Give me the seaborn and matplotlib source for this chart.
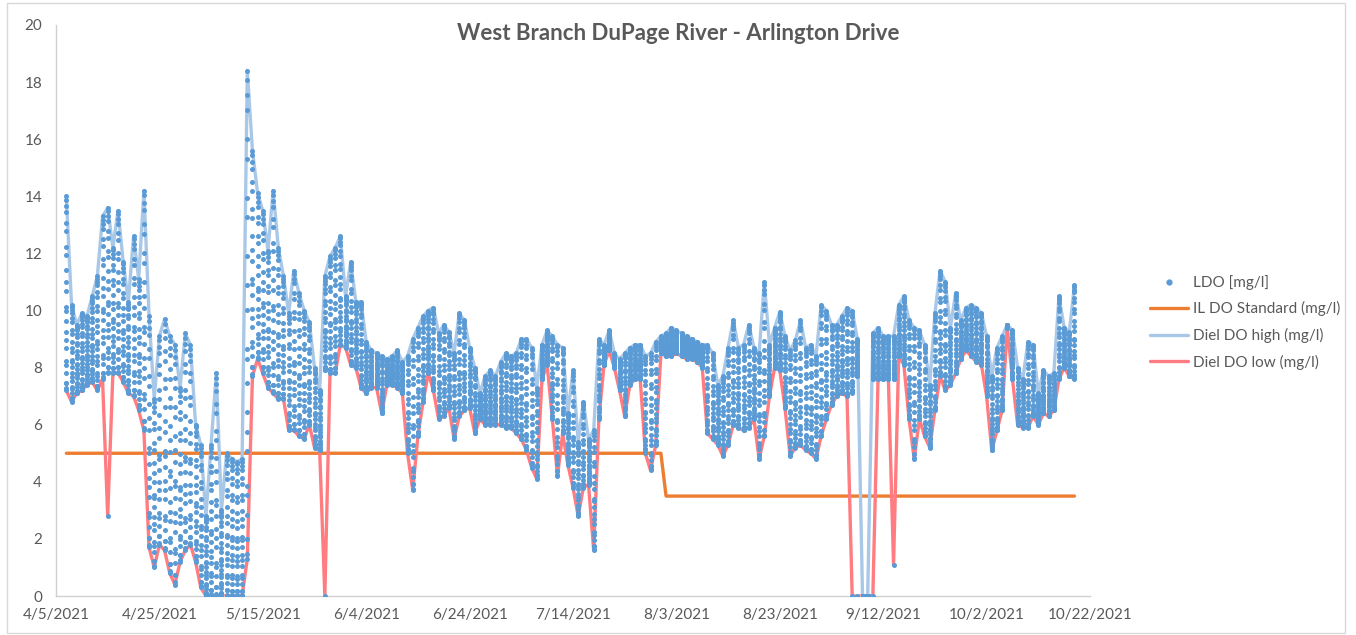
import pandas as pd
import matplotlib
matplotlib.use("Agg")
import matplotlib.pyplot as plt
import seaborn as sns
from matplotlib.lines import Line2D
from matplotlib.patches import Rectangle

sns.set_style("white")
plt.rcParams["font.family"] = ["Lato", "DejaVu Sans"]

# ---- data ----
first_day = "2021-04-07"

diel_high = [
    14.0, 10.2, 9.5, 9.9, 9.8, 10.5, 11.2, 13.3, 13.6, 12.2,
    13.5, 11.7, 10.3, 12.6, 11.1, 14.2, 9.8, 6.9, 9.1, 9.7,
    9.1, 8.8, 7.3, 9.2, 8.8, 6.0, 5.3, 2.8, 5.3, 7.8,
    3.0, 5.0, 4.8, 4.7, 4.8, 18.4, 15.6, 14.1, 13.5, 12.1,
    14.2, 12.2, 11.2, 9.9, 11.4, 10.6, 10.0, 9.6, 8.0, 7.2,
    11.2, 11.9, 12.2, 12.6, 10.5, 11.7, 10.3, 10.3, 8.9, 8.6,
    8.5, 8.4, 8.3, 8.4, 8.6, 8.2, 8.4, 9.0, 9.4, 9.8,
    10.0, 10.1, 9.2, 9.5, 9.25, 8.5, 9.9, 9.65, 8.7, 8.0,
    7.1, 7.7, 7.9, 7.7, 8.2, 8.5, 8.4, 8.5, 9.0, 9.0,
    8.7, 7.3, 8.8, 9.3, 9.1, 8.8, 8.7, 6.4, 7.9, 5.4,
    6.8, 5.5, 5.8, 9.0, 8.8, 9.3, 8.5, 8.3, 8.5, 8.7,
    8.8, 8.8, 8.4, 8.5, 8.9, 9.1, 9.2, 9.4, 9.3, 9.2,
    9.1, 9.0, 8.9, 8.8, 8.8, 8.5, 7.4, 7.7, 8.7, 9.65,
    8.7, 8.8, 9.5, 8.7, 8.5, 11.0, 8.8, 9.4, 9.95, 9.1,
    8.6, 8.95, 9.65, 8.7, 8.8, 8.4, 10.2, 10.0, 9.5, 9.5,
    9.8, 10.1, 10.0, 9.0, 0.0, 0.0, 9.2, 9.4, 9.1, 9.1,
    9.1, 10.2, 10.5, 9.65, 9.4, 9.3, 8.8, 7.4, 9.9, 11.4,
    11.0, 9.4, 10.6, 9.65, 10.1, 10.2, 10.1, 9.9, 9.1, 7.7,
    8.7, 9.1, 9.5, 9.3, 8.0, 7.6, 8.9, 8.8, 7.1, 7.9,
    7.7, 7.8, 10.5, 9.4, 9.25, 10.9,
]

diel_low = [
    7.2, 6.8, 7.1, 7.2, 7.4, 7.5, 7.2, 7.6, 2.8, 7.8,
    7.8, 7.5, 7.1, 7.0, 6.5, 5.8, 1.7, 1.0, 1.8, 1.6,
    0.8, 0.4, 1.2, 1.6, 1.8, 1.2, 0.3, 0.0, 0.0, 0.0,
    0.0, 0.0, 0.0, 0.0, 0.0, 1.3, 7.7, 8.3, 7.8, 7.3,
    7.1, 6.9, 6.9, 5.8, 5.8, 5.6, 5.5, 6.0, 5.2, 5.1,
    0.0, 7.8, 7.8, 8.8, 8.7, 8.1, 8.0, 7.3, 7.1, 7.3,
    7.3, 6.4, 7.4, 7.4, 7.3, 7.1, 5.0, 3.7, 5.6, 6.8,
    7.8, 7.2, 6.2, 6.3, 6.6, 5.5, 6.3, 6.5, 6.6, 5.7,
    6.2, 6.0, 6.0, 6.0, 6.0, 5.9, 5.9, 5.7, 5.5, 5.1,
    4.5, 4.1, 7.6, 8.1, 6.2, 4.2, 5.7, 4.6, 3.8, 2.8,
    3.8, 3.9, 1.6, 6.2, 8.1, 8.6, 8.0, 7.2, 6.3, 7.4,
    7.6, 7.6, 5.0, 4.4, 5.3, 8.5, 8.4, 8.4, 8.5, 8.4,
    8.3, 8.3, 8.2, 8.0, 5.7, 5.5, 5.3, 4.9, 5.3, 6.0,
    5.9, 5.8, 5.9, 6.2, 4.8, 5.6, 7.0, 8.0, 7.9, 6.6,
    4.9, 5.2, 5.3, 5.1, 5.0, 4.8, 5.6, 6.2, 6.7, 7.0,
    7.1, 7.0, 0.0, 0.0, 0.0, 0.0, 0.0, 7.6, 7.6, 7.6,
    1.1, 8.4, 8.1, 6.2, 4.8, 6.2, 5.6, 5.2, 6.5, 7.7,
    7.2, 7.4, 7.8, 8.3, 8.6, 8.4, 8.2, 8.1, 7.0, 5.1,
    5.8, 6.5, 9.4, 7.6, 6.0, 5.9, 5.9, 6.3, 6.0, 6.4,
    6.3, 6.5, 7.6, 8.0, 7.7, 7.6,
]

# days whose low is a single dropout reading; the other readings stay above band_low
dropout_dates = ["2021-04-15", "2021-05-27", "2021-09-06", "2021-09-07",
                 "2021-09-10", "2021-09-14"]
dropout_band_low = [7.8, 7.9, 7.1, 7.7, 7.6, 7.6]

# typical position of the hourly LDO readings within each day's low..high band
hourly_shape = [
    0.30, 0.22, 0.15, 0.09, 0.04, 0.01, 0.00, 0.04, 0.13, 0.26, 0.41, 0.56,
    0.70, 0.82, 0.92, 0.98, 1.00, 0.95, 0.86, 0.74, 0.62, 0.51, 0.43, 0.36,
]

il_standard_levels = [5.0, 3.5]
il_standard_switch = "2021-08-01"

tick_dates = pd.date_range("2021-04-05", "2021-10-22", freq="20D")

# ---- build tables ----
days = pd.date_range(first_day, periods=len(diel_high), freq="D")
diel = pd.DataFrame({"date": days, "high": diel_high, "low": diel_low})
diel["standard"] = il_standard_levels[0]
diel.loc[diel["date"] >= pd.Timestamp(il_standard_switch), "standard"] = il_standard_levels[1]

band_low = dict(zip(pd.to_datetime(dropout_dates), dropout_band_low))

# the date axis groups every reading of a day onto that day's position
rows = []
for _, r in diel.iterrows():
    bottom = band_low.get(r["date"], r["low"])
    if r["date"] in band_low:
        rows.append({"time": r["date"], "ldo": r["low"]})
    for frac in hourly_shape:
        rows.append({"time": r["date"], "ldo": bottom + frac * (r["high"] - bottom)})
ldo = pd.DataFrame(rows)

# ---- colours ----
c_dot = "#5B9BD5"
c_std = "#ED7D31"
c_high = "#A9C8E8"
c_low = "#FF7C80"
c_text = "#595959"
c_axis = "#D0D0D0"

fig = plt.figure(figsize=(13.56, 6.35), dpi=100)
ax = fig.add_axes([56 / 1356, 1 - 596 / 635, (1090 - 56) / 1356, (596 - 25) / 635])

sns.lineplot(data=diel, x="date", y="standard", ax=ax, color=c_std, lw=2.4, zorder=2)
sns.lineplot(data=diel, x="date", y="high", ax=ax, color=c_high, lw=2.4, zorder=2)
sns.lineplot(data=diel, x="date", y="low", ax=ax, color=c_low, lw=2.4, zorder=2)
sns.scatterplot(data=ldo, x="time", y="ldo", ax=ax, color=c_dot, s=13,
                linewidth=0, zorder=3)

ax.set_xlim(pd.Timestamp("2021-04-05"), pd.Timestamp("2021-10-22"))
ax.set_ylim(0, 20)
ax.set_yticks(range(0, 21, 2))
ax.set_xticks(tick_dates)
ax.set_xticklabels([f"{d.month}/{d.day}/{d.year}" for d in tick_dates])
ax.set_xlabel("")
ax.set_ylabel("")
ax.tick_params(axis="both", length=0, labelsize=11, colors=c_text)
ax.tick_params(axis="y", pad=10)
ax.tick_params(axis="x", pad=9)
for side in ["top", "right"]:
    ax.spines[side].set_visible(False)
for side in ["left", "bottom"]:
    ax.spines[side].set_color(c_axis)
    ax.spines[side].set_linewidth(1.0)

fig.text(0.5, 1 - 33 / 635, "West Branch DuPage River - Arlington Drive",
         ha="center", va="center", fontsize=16, fontweight="bold", color=c_text)

handles = [
    Line2D([], [], marker="o", linestyle="none", color=c_dot, markersize=3.5),
    Line2D([], [], color=c_std, lw=2.4),
    Line2D([], [], color=c_high, lw=2.4),
    Line2D([], [], color=c_low, lw=2.4),
]
labels = ["LDO [mg/l]", "IL DO Standard (mg/l)", "Diel DO high (mg/l)", "Diel DO low (mg/l)"]
fig.legend(handles, labels, loc="upper left", bbox_to_anchor=(1150 / 1356, 1 - 275 / 635),
           frameon=False, fontsize=11, labelcolor=c_text, handlelength=2.5,
           handletextpad=0.3, labelspacing=0.75, borderpad=0, borderaxespad=0)

fig.patches.append(Rectangle((7 / 1356, 2 / 635), 1338 / 1356, 630 / 635,
                             transform=fig.transFigure, fill=False,
                             edgecolor="#D9D9D9", lw=1.0))

fig.savefig("out.png", dpi=100)
